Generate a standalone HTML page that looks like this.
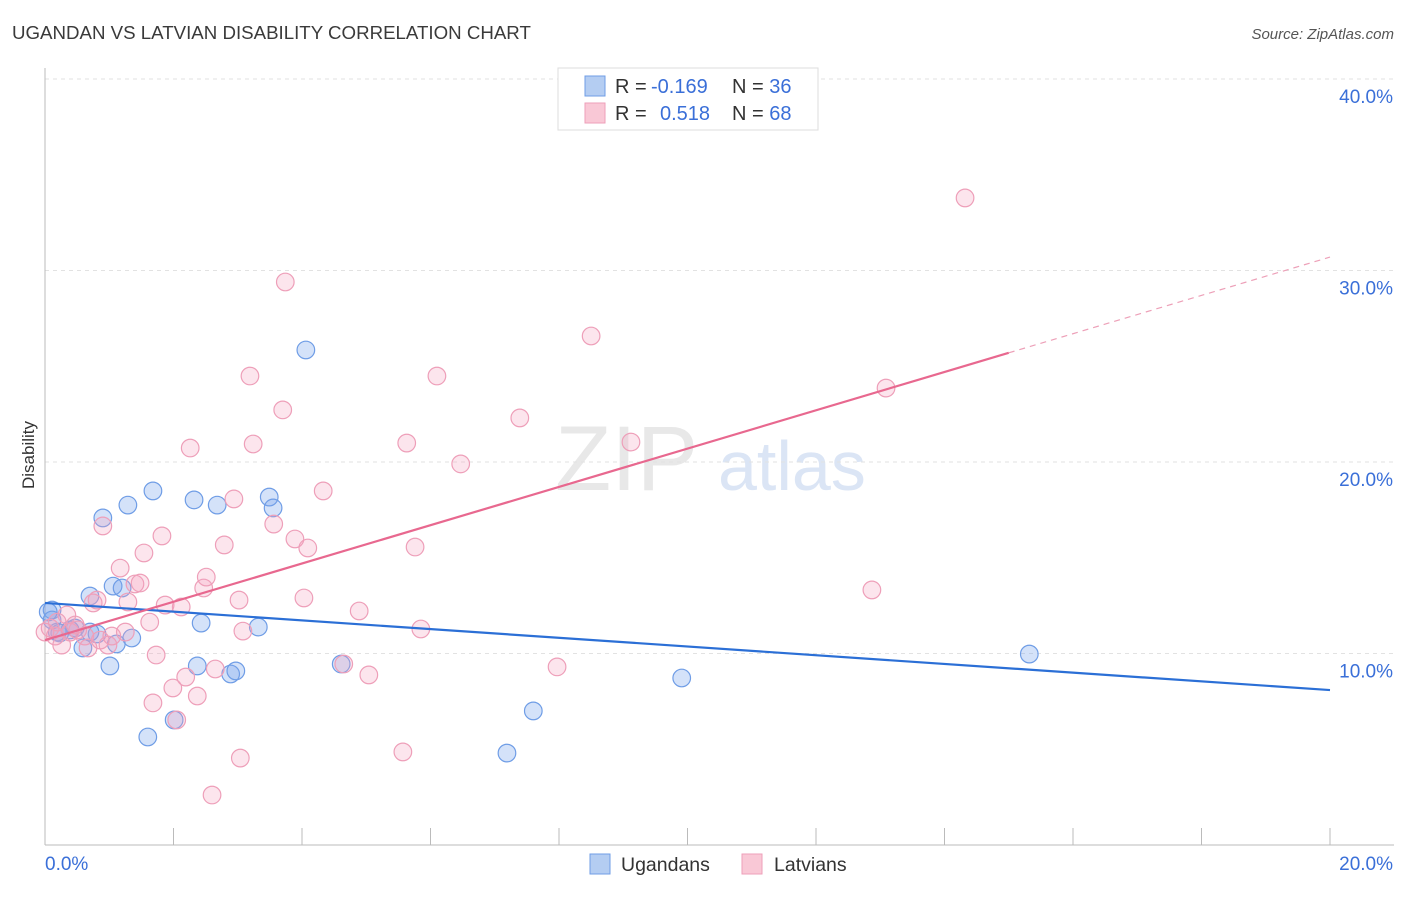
<!DOCTYPE html>
<html><head><meta charset="utf-8"><style>
body{margin:0;background:#fff;font-family:"Liberation Sans",sans-serif;}
svg text{font-family:"Liberation Sans",sans-serif;}
</style></head><body>
<svg id="chart" width="1406" height="892" xmlns="http://www.w3.org/2000/svg">
<text x="12" y="39" font-size="18.7" fill="#3a3a3a">UGANDAN VS LATVIAN DISABILITY CORRELATION CHART</text>
<text x="1394" y="39" font-size="15" fill="#555" text-anchor="end" font-style="italic">Source: ZipAtlas.com</text>
<text x="555" y="490" font-size="92" fill="#e8e8e8" font-family="Liberation Serif">ZIP</text>
<text x="718" y="490" font-size="70" fill="#dbe5f5">atlas</text>
<g id="grid"></g>
<g id="axes"></g>
<g id="marks"></g>
<g>
<rect x="558" y="68" width="260" height="62" fill="#fff" stroke="#ddd"/>
<rect x="585" y="76" width="20" height="20" fill="#b4cdf2" stroke="#6f9de6"/>
<rect x="585" y="103" width="20" height="20" fill="#f9c8d6" stroke="#ee9fb9"/>
<text x="615" y="93" font-size="20" fill="#333">R = <tspan x="651" fill="#3a6fd8">-0.169</tspan><tspan x="732">N = </tspan><tspan fill="#3a6fd8">36</tspan></text>
<text x="615" y="120" font-size="20" fill="#333">R = <tspan x="660" fill="#3a6fd8">0.518</tspan><tspan x="732">N = </tspan><tspan fill="#3a6fd8">68</tspan></text>
</g>
<g>
<rect x="590" y="854" width="20" height="20" fill="#b4cdf2" stroke="#6f9de6"/>
<text x="621" y="871" font-size="19.5" fill="#333">Ugandans</text>
<rect x="742" y="854" width="20" height="20" fill="#f9c8d6" stroke="#ee9fb9"/>
<text x="774" y="871" font-size="19.5" fill="#333">Latvians</text>
</g>
</svg>
<script>
const blueX=[0.11,0.11,0.19,0.47,0.59,0.70,0.81,0.90,1.01,1.06,1.11,1.20,1.29,1.35,1.60,1.68,2.01,2.32,2.37,2.43,2.68,2.89,2.97,3.32,3.49,3.55,4.06,4.61,7.19,7.60,9.91,15.32,0.05,0.39,0.23,0.70];
const blueY=[12.27,11.75,11.12,11.33,10.29,13.0,11.02,17.08,9.35,13.52,10.50,13.42,17.75,10.81,5.64,18.49,6.53,18.02,9.35,11.59,17.75,8.93,9.09,11.38,18.17,17.60,25.85,9.45,4.80,7.00,8.72,9.97,12.17,11.23,11.07,11.12];
const pinkX=[0.08,0.16,0.26,0.34,0.39,0.51,0.62,0.67,0.75,0.81,0.90,0.98,1.04,1.17,1.29,1.40,1.48,1.54,1.63,1.68,1.73,1.82,1.87,1.99,2.05,2.12,2.19,2.26,2.37,2.47,2.51,2.60,2.65,2.79,2.94,3.02,3.04,3.08,3.19,3.24,3.56,3.70,3.74,3.89,4.03,4.09,4.33,4.65,4.89,5.04,5.57,5.63,5.76,5.85,6.10,6.47,7.39,7.97,8.50,9.12,12.87,13.09,14.32,0.19,0.47,0.0,0.86,1.25];
const pinkY=[11.33,10.91,10.44,12.01,11.12,11.23,10.91,10.29,12.64,12.79,16.66,10.44,10.91,14.46,12.69,13.63,13.68,15.25,11.64,7.42,9.92,16.14,12.53,8.20,6.53,12.43,8.77,20.73,7.78,13.42,13.99,2.61,9.19,15.67,18.07,12.79,4.54,11.17,24.49,20.94,16.76,22.72,29.40,15.98,12.90,15.51,18.49,9.45,12.22,8.88,4.86,20.99,15.56,11.28,24.49,19.90,22.30,9.30,26.58,21.04,13.32,23.86,33.79,11.64,11.49,11.12,10.70,11.12];
const blueLine=[12.64,8.09];
const pinkLine=[10.70,30.7];
const yTicks=[10,20,30,40];
const yTickLabels=["10.0%","20.0%","30.0%","40.0%"];
const xTickLabels=["0.0%","20.0%"];

const NS="http://www.w3.org/2000/svg";
const X0=45,X1=1330,XMAX=20,YB=845,PPY=19.15;
const sx=v=>X0+(v/XMAX)*(X1-X0);
const sy=v=>YB-v*PPY;
function mk(tag,attrs,parent){const e=document.createElementNS(NS,tag);for(const k in attrs)e.setAttribute(k,attrs[k]);parent.appendChild(e);return e;}
const grid=document.getElementById('grid'),axes=document.getElementById('axes'),marks=document.getElementById('marks');
yTicks.forEach((t,i)=>{
 const l=mk('line',{x1:45,x2:1394,y1:sy(t),y2:sy(t),stroke:'#e2e2e2','stroke-dasharray':'4,4'},grid);
 
 
 const tx=mk('text',{x:1393,y:sy(t)+24,'font-size':19,fill:'#3a6fd8','text-anchor':'end'},axes);
 tx.textContent=yTickLabels[i];
 
 
});
let a=mk('line',{x1:45,x2:45,y1:68,y2:845,stroke:'#bbb'},axes);


a=mk('line',{x1:45,x2:1394,y1:845,y2:845,stroke:'#bbb'},axes);


for(let i=1;i<=10;i++){
 const t=mk('line',{x1:sx(i*2),x2:sx(i*2),y1:828,y2:845,stroke:'#bbb'},axes);
 
 
}
let xl=mk('text',{x:45,y:870,'font-size':19,fill:'#3a6fd8'},axes);xl.textContent=xTickLabels[0];


xl=mk('text',{x:1393,y:870,'font-size':19,fill:'#3a6fd8','text-anchor':'end'},axes);xl.textContent=xTickLabels[1];


const yt=mk('text',{x:34,y:455,'font-size':17,fill:'#333','text-anchor':'middle',transform:'rotate(-90 34 455)'},axes);
yt.textContent='Disability';



blueX.forEach((x,i)=>{
 const c=mk('circle',{cx:sx(x),cy:sy(blueY[i]),r:8.8,fill:'rgba(120,165,235,0.32)',stroke:'#6f9de6','stroke-width':1.2},marks);
 
 
});
pinkX.forEach((x,i)=>{
 const c=mk('circle',{cx:sx(x),cy:sy(pinkY[i]),r:8.8,fill:'rgba(245,160,190,0.28)',stroke:'#ee9fb9','stroke-width':1.2},marks);
 
 
});
let ln=mk('line',{x1:sx(0),y1:sy(blueLine[0]),x2:sx(20),y2:sy(blueLine[1]),stroke:'#2b6fd6','stroke-width':2.2},marks);


const pAt=x=>pinkLine[0]+(pinkLine[1]-pinkLine[0])*x/20;
ln=mk('line',{x1:sx(0),y1:sy(pAt(0)),x2:sx(15),y2:sy(pAt(15)),stroke:'#e8688f','stroke-width':2.2},marks);


ln=mk('line',{x1:sx(15),y1:sy(pAt(15)),x2:sx(20),y2:sy(pAt(20)),stroke:'#eda0b8','stroke-width':1.2,'stroke-dasharray':'6,5'},marks);


</script>
</body></html>
